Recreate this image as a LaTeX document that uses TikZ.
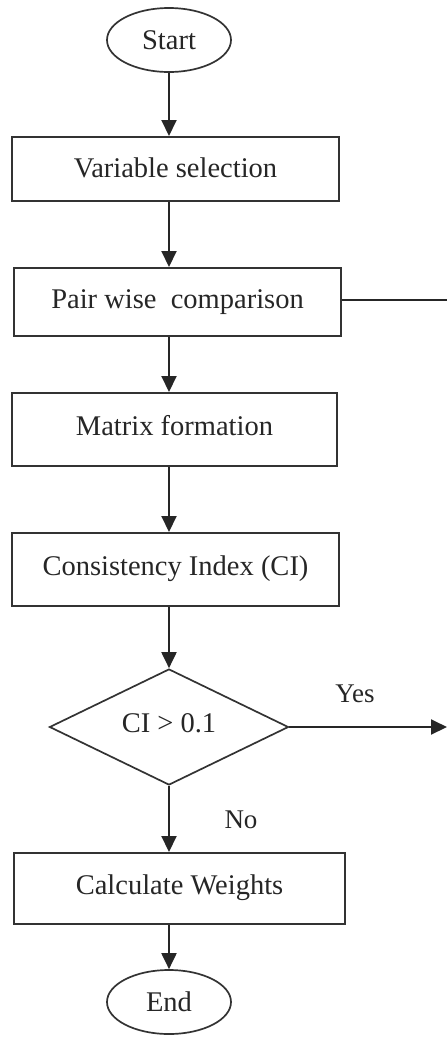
\documentclass[tikz,border=0pt]{standalone}
\usepackage{fontspec}
\setmainfont{Liberation Serif}
\usetikzlibrary{arrows.meta,shapes.geometric}
\begin{document}
\begin{tikzpicture}[x=1pt,y=1pt,
  every node/.style={font=\fontsize{28.5}{32}\selectfont, text=black!85},
  stepbox/.style={draw=black!80, line width=2pt, rectangle, inner sep=0pt},
  term/.style={draw=black!80, line width=1.7pt, ellipse, inner sep=0pt, minimum width=124pt, minimum height=64pt},
  decide/.style={draw=black!80, line width=1.7pt, diamond, aspect=2.06, inner sep=0pt, minimum width=239pt, minimum height=116pt},
  arr/.style={draw=black!85, line width=2pt, -{Triangle[width=15pt,length=16pt]}},
  plain/.style={draw=black!85, line width=2pt},
  lbl/.style={font=\fontsize{27}{30}\selectfont}
]
\useasboundingbox (0,0) rectangle (447,-1037);
\node[term] (start) at (169,-40) {Start};
\node[stepbox, minimum width=327pt, minimum height=64pt] (var) at (175.5,-169) {\raisebox{2pt}{Variable selection}};
\node[stepbox, minimum width=327pt, minimum height=68pt] (pair) at (177.5,-302) {\raisebox{5pt}{Pair wise\ \ comparison}};
\node[stepbox, minimum width=325pt, minimum height=73pt] (mat) at (174.5,-429.5) {\raisebox{8pt}{Matrix formation}};
\node[stepbox, minimum width=327pt, minimum height=73pt] (cons) at (175.5,-569.5) {\raisebox{8pt}{Consistency Index (CI)}};
\node[decide] (dia) at (169,-727) {\raisebox{8pt}{CI > 0.1}};
\node[stepbox, minimum width=331pt, minimum height=71pt] (calc) at (179.5,-888.5) {\raisebox{7pt}{Calculate Weights}};
\node[term] (end) at (169,-1002) {End};
\node[lbl] (yes) at (355,-694) {Yes};
\node[lbl] (no) at (241,-820) {No};
\coordinate (pairout) at (447,-300);
\coordinate (yesout) at (447,-727);

\draw[arr] (start.south) -- (start.south |- var.north);
\draw[arr] (start.south |- var.south) -- (start.south |- pair.north);
\draw[arr] (start.south |- pair.south) -- (start.south |- mat.north);
\draw[arr] (start.south |- mat.south) -- (start.south |- cons.north);
\draw[arr] (start.south |- cons.south) -- (dia.north);
\draw[arr] (dia.south) -- (dia.south |- calc.north);
\draw[arr] (dia.south |- calc.south) -- (end.north);
\draw[plain] (pair.east |- pairout) -- (pairout);
\draw[arr] (dia.east) -- (yesout);
\end{tikzpicture}
\end{document}
